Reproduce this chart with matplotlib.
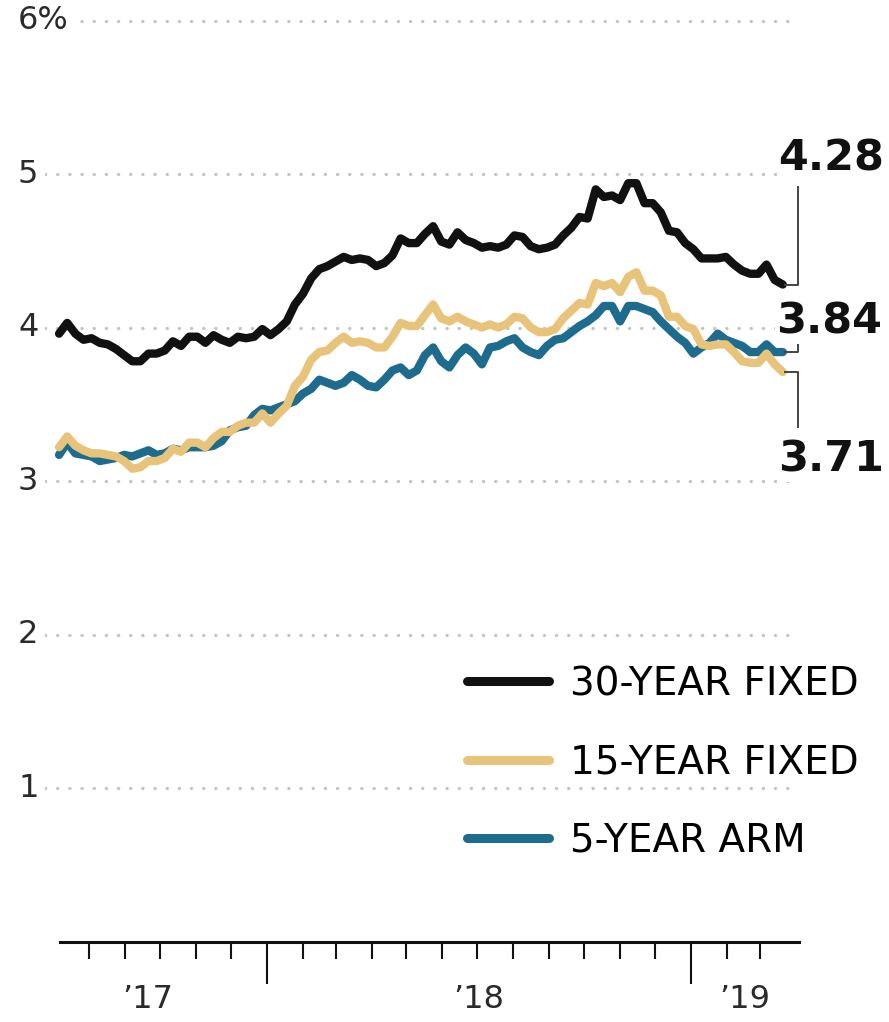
import numpy as np
import pandas as pd
import matplotlib
matplotlib.use('Agg')
import matplotlib.pyplot as plt
import matplotlib.dates as mdates
from matplotlib.lines import Line2D
from matplotlib.ticker import FixedLocator, NullFormatter
from matplotlib.transforms import blended_transform_factory

# weekly survey dates (Thursdays)
weeks = pd.date_range('2017-07-06', '2019-03-21', freq='7D')

fixed30 = [3.96, 4.03, 3.96, 3.92, 3.93, 3.90, 3.89, 3.86, 3.82, 3.78, 3.78, 3.83, 3.83,
           3.85, 3.91, 3.88, 3.94, 3.94, 3.90, 3.95, 3.92, 3.90, 3.94, 3.93, 3.94, 3.99,
           3.95, 3.99, 4.04, 4.15, 4.22, 4.32, 4.38, 4.40, 4.43, 4.46, 4.44, 4.45, 4.44,
           4.40, 4.42, 4.47, 4.58, 4.55, 4.55, 4.61, 4.66, 4.56, 4.54, 4.62, 4.57, 4.55,
           4.52, 4.53, 4.52, 4.54, 4.60, 4.59, 4.53, 4.51, 4.52, 4.54, 4.60, 4.65, 4.72,
           4.71, 4.90, 4.85, 4.86, 4.83, 4.94, 4.94, 4.81, 4.81, 4.75, 4.63, 4.62, 4.55,
           4.51, 4.45, 4.45, 4.45, 4.46, 4.41, 4.37, 4.35, 4.35, 4.41, 4.31, 4.28]

fixed15 = [3.22, 3.29, 3.23, 3.20, 3.18, 3.18, 3.17, 3.16, 3.13, 3.08, 3.09, 3.13, 3.13,
           3.15, 3.21, 3.19, 3.25, 3.25, 3.22, 3.28, 3.32, 3.32, 3.36, 3.38, 3.38, 3.44,
           3.38, 3.44, 3.49, 3.62, 3.68, 3.79, 3.84, 3.85, 3.90, 3.94, 3.90, 3.91, 3.90,
           3.87, 3.87, 3.94, 4.03, 4.01, 4.01, 4.08, 4.15, 4.06, 4.04, 4.07, 4.04, 4.02,
           4.00, 4.02, 4.00, 4.02, 4.07, 4.06, 4.00, 3.97, 3.97, 3.99, 4.06, 4.11, 4.16,
           4.15, 4.29, 4.27, 4.29, 4.23, 4.33, 4.36, 4.24, 4.24, 4.21, 4.07, 4.07, 4.01,
           3.99, 3.89, 3.88, 3.89, 3.89, 3.84, 3.78, 3.77, 3.77, 3.83, 3.76, 3.71]

arm5 = [3.17, 3.25, 3.18, 3.17, 3.16, 3.13, 3.14, 3.15, 3.17, 3.16, 3.18, 3.20, 3.17,
        3.18, 3.21, 3.20, 3.22, 3.22, 3.22, 3.23, 3.26, 3.33, 3.35, 3.36, 3.43, 3.47,
        3.46, 3.48, 3.50, 3.52, 3.57, 3.60, 3.66, 3.64, 3.62, 3.64, 3.69, 3.66, 3.62,
        3.61, 3.66, 3.72, 3.74, 3.69, 3.72, 3.82, 3.87, 3.78, 3.74, 3.82, 3.87, 3.83,
        3.76, 3.87, 3.88, 3.91, 3.93, 3.87, 3.84, 3.82, 3.88, 3.92, 3.93, 3.97, 4.01,
        4.04, 4.08, 4.14, 4.14, 4.04, 4.14, 4.14, 4.12, 4.10, 4.04, 3.99, 3.94, 3.90,
        3.83, 3.87, 3.90, 3.96, 3.92, 3.90, 3.88, 3.84, 3.84, 3.89, 3.84, 3.84]

series_names = ['30-YEAR FIXED', '15-YEAR FIXED', '5-YEAR ARM']
colors = ['#111111', '#e8c47a', '#1d6c8e']
y_ticks = [1, 2, 3, 4, 5, 6]
y_labels = ['1', '2', '3', '4', '5', '6%']
year_labels = ['\u201917', '\u201918', '\u201919']
year_label_dates = ['2017-09-20', '2018-07-02', '2019-02-16']

plt.rcParams['font.family'] = ['DejaVu Sans']

W, H = 889, 1022
fig = plt.figure(figsize=(W / 100, H / 100), dpi=100)


def px2x(px):
    # pixel column of the picture -> matplotlib date number
    return mdates.date2num(pd.Timestamp('2018-01-01')) + (px - 267) / 424 * 365


ax = fig.add_axes([45 / W, (H - 941.5) / H, 760 / W, 921 / H])
ax.set_xlim(px2x(45), px2x(805))
ax.set_ylim(0, 6)

for s in ['left', 'right', 'top']:
    ax.spines[s].set_visible(False)
ax.spines['bottom'].set_bounds(px2x(60), px2x(799))
ax.spines['bottom'].set_linewidth(2.2)
ax.spines['bottom'].set_color('#111111')

# ticks: years long, months short
year_ticks = [mdates.date2num(pd.Timestamp(d)) for d in ['2018-01-01', '2019-01-01']]
month_ticks = [mdates.date2num(d) for d in pd.date_range('2017-08-01', '2019-03-01', freq='MS')
               if d.month != 1]
ax.xaxis.set_major_locator(FixedLocator(year_ticks))
ax.xaxis.set_minor_locator(FixedLocator(month_ticks))
ax.xaxis.set_major_formatter(NullFormatter())
ax.tick_params(axis='x', which='major', direction='out', length=30, width=1.5, color='#111111')
ax.tick_params(axis='x', which='minor', direction='out', length=12, width=1.5, color='#111111')
ax.set_yticks([])

# dotted gridlines
for y in y_ticks:
    ax.plot([px2x(45), px2x(792)], [y, y], linestyle=(0, (0.05, 3.6)), lw=2.4,
            color='#c4c4c4', dash_capstyle='round', zorder=1)

lab_tr = blended_transform_factory(fig.transFigure, ax.transData)
for y, lab in zip(y_ticks, y_labels):
    ax.text(18 / W, y, lab, transform=lab_tr, fontsize=23, color='#2a2a2a',
            ha='left', va='center',
            bbox=dict(facecolor='white', edgecolor='none', pad=2), zorder=3)

yr_tr = blended_transform_factory(ax.transData, ax.transAxes)
for d, lab in zip(year_label_dates, year_labels):
    ax.text(mdates.date2num(pd.Timestamp(d)), -0.063, lab, transform=yr_tr,
            fontsize=23, color='#2a2a2a', ha='center', va='center')

x = mdates.date2num(weeks)
line_kw = dict(lw=6, solid_capstyle='round', solid_joinstyle='round')
ax.plot(x, arm5, color=colors[2], zorder=4, **line_kw)
ax.plot(x, fixed15, color=colors[1], zorder=5, **line_kw)
ax.plot(x, fixed30, color=colors[0], zorder=6, **line_kw)

# end-value brackets and labels
x_end = x[-1]
bx = px2x(798)
bk = dict(color='#444444', lw=1.4, zorder=7)
ax.plot([x_end + 2, bx, bx], [fixed30[-1], fixed30[-1], 4.915], **bk)
ax.plot([x_end + 2, bx, bx], [arm5[-1], arm5[-1], 3.92], **bk)
ax.plot([x_end + 2, bx, bx], [fixed15[-1], fixed15[-1], 3.35], **bk)

lab_kw = dict(fontsize=31, fontweight='bold', color='#111111', ha='left', va='center',
              bbox=dict(facecolor='white', edgecolor='none', pad=1), zorder=8)
ax.text(px2x(778), 5.10, f'{fixed30[-1]:.2f}', **lab_kw)
ax.text(px2x(776), 4.04, f'{arm5[-1]:.2f}', **lab_kw)
ax.text(px2x(778), 3.14, f'{fixed15[-1]:.2f}', **lab_kw)

handles = [Line2D([0], [0], color=c, lw=6.5, solid_capstyle='round') for c in colors]
ax.legend(handles, series_names, loc='upper left',
          bbox_to_anchor=(467 / W, 1 - 665 / H), bbox_transform=fig.transFigure,
          frameon=False, fontsize=28, handlelength=2.1, handletextpad=0.55,
          labelspacing=1.04, borderpad=0, borderaxespad=0)

fig.savefig('out.png', dpi=100, facecolor='white')
